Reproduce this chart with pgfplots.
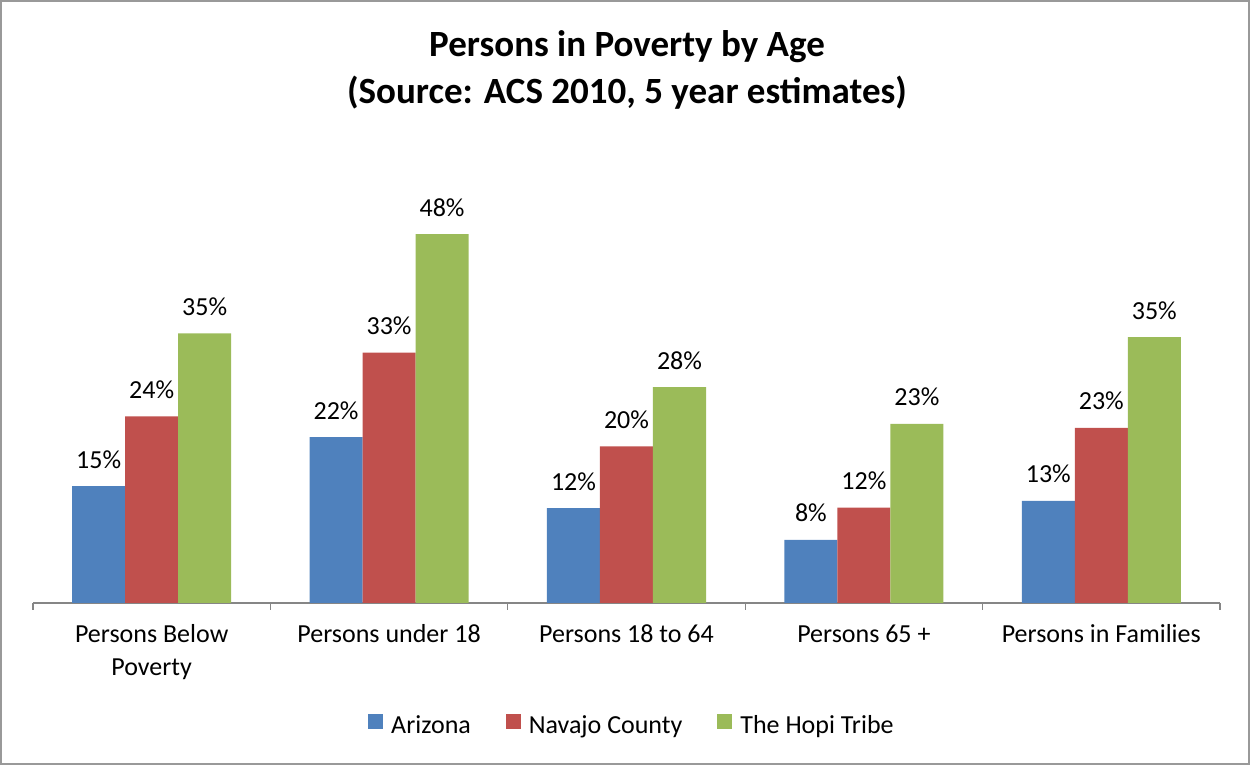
\documentclass[border=0pt]{standalone}
\usepackage{fontspec}
\setmainfont{Carlito}
\usepackage{pgfplots}
\pgfplotsset{compat=1.18}
\definecolor{azblue}{HTML}{4F81BD}
\definecolor{navred}{HTML}{C0504D}
\definecolor{hopigreen}{HTML}{9BBB59}
\definecolor{axisgray}{HTML}{868686}
\definecolor{framegray}{HTML}{999999}

\begin{document}
\begin{tikzpicture}
\useasboundingbox (0,0) rectangle (1250pt,765pt);
\draw[framegray, line width=2pt] (1pt,1pt) rectangle (1249pt,764pt);
% title, two lines
\node[anchor=base, font=\bfseries\fontsize{37}{45}\selectfont] at (627pt,708pt) {Persons in Poverty by Age};
\node[anchor=base, font=\bfseries\fontsize{37}{45}\selectfont] at (627pt,661pt) {(Source: ACS 2010, 5 year estimates)};
\begin{axis}[
    at={(33pt,162pt)}, anchor=south west,
    scale only axis, width=1187pt, height=461pt,
    ymin=0, ymax=60, xmin=-0.5, xmax=4.5,
    axis y line=none,
    axis x line=bottom,
    x axis line style={-, draw=axisgray, line width=1.3pt},
    ybar=0pt, bar width=53pt,
    /pgf/number format/assume math mode=true,
    xtick={-0.5,0.5,1.5,2.5,3.5,4.5},
    x tick label as interval,
    xticklabels={{\begin{tabular}[t]{@{}c@{}}Persons Below\\Poverty\end{tabular}}, Persons under 18, Persons 18 to 64, Persons 65 +, Persons in Families},
    xticklabel style={font=\fontsize{26}{33}\selectfont, anchor=base, inner sep=0pt, yshift=-33pt},
    tick align=outside, major tick length=7pt,
    xtick style={draw=axisgray, line width=1.3pt},
    clip=false,
    nodes near coords={\pgfmathprintnumber[fixed,precision=0]{\pgfplotspointmeta}\%},
    nodes near coords style={font=\fontsize{26}{31}\selectfont, anchor=base, inner sep=0pt, yshift=18pt, text=black},
    legend style={at={(axis description cs:0.5046,-0.2646)}, anchor=center, draw=none, legend columns=3,
        font=\fontsize{26}{31}\selectfont,
        /tikz/every odd column/.append style={column sep=6pt},
        /tikz/every even column/.append style={column sep=33pt}},
    legend image code/.code={\fill[#1] (0pt,-4pt) rectangle (15pt,11pt);},
]
\addplot[fill=azblue, draw=none] coordinates {(0,15.2) (1,21.6) (2,12.35) (3,8.2) (4,13.3)};
\addplot[fill=navred, draw=none] coordinates {(0,24.3) (1,32.6) (2,20.4) (3,12.4) (4,22.8)};
\addplot[fill=hopigreen, draw=none] coordinates {(0,35.1) (1,48.0) (2,28.1) (3,23.3) (4,34.6)};
\legend{Arizona, Navajo County, The Hopi Tribe}
\end{axis}
\end{tikzpicture}
\end{document}
